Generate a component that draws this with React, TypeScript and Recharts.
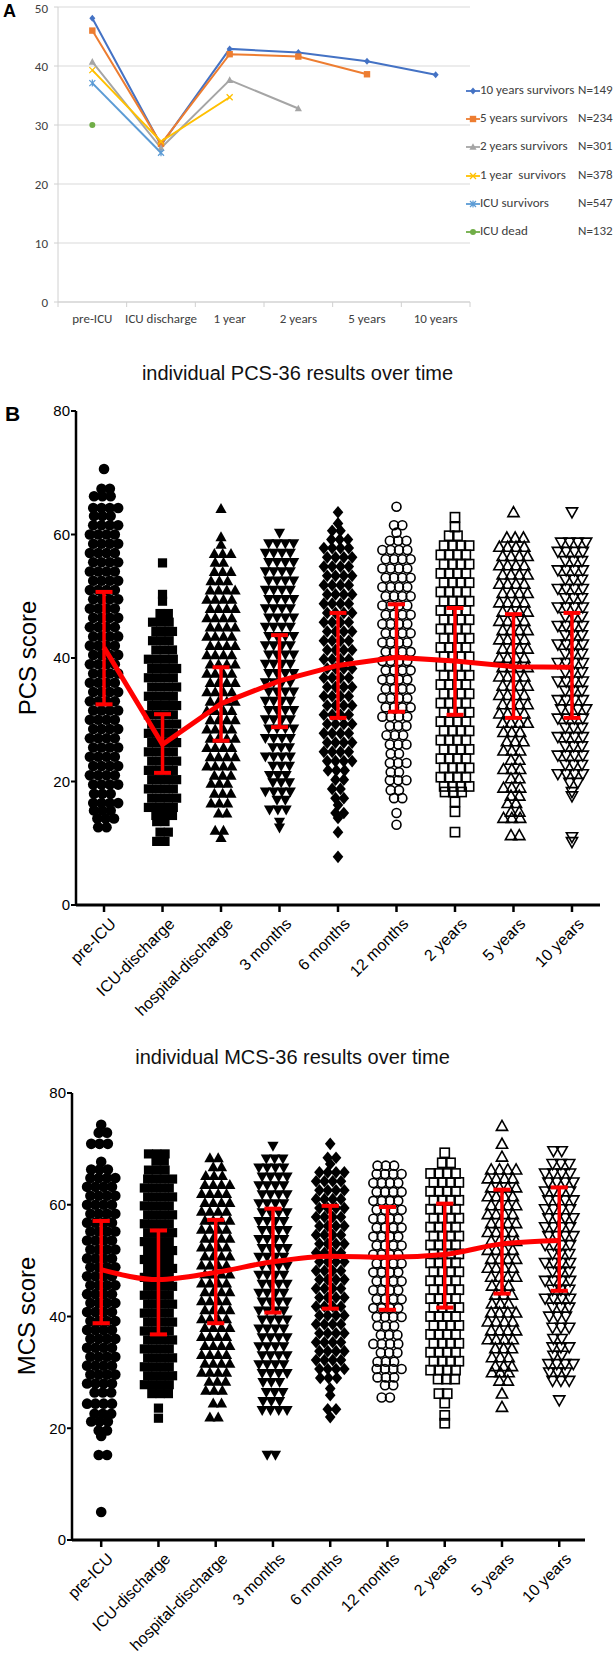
import { CartesianGrid, ComposedChart, Line, LineChart, Scatter, XAxis, YAxis } from "recharts";

// ---------- panel A: mean PCS by survivor group ----------
const periodsA = ["pre-ICU", "ICU discharge", "1 year", "2 years", "5 years", "10 years"];
const tenYears = [48.1, 26.6, 42.9, 42.3, 40.8, 38.5];
const fiveYears = [46.0, 26.8, 42.0, 41.6, 38.6, null];
const twoYears = [40.7, 26.1, 37.6, 32.8, null, null];
const oneYear = [39.3, 27.2, 34.7, null, null, null];
const icuSurvivors = [37.1, 25.3, null, null, null, null];
const icuDead = [30.0, null, null, null, null, null];

// ---------- panel B: individual scores ----------
const periodsB = ["pre-ICU", "ICU-discharge", "hospital-discharge", "3 months", "6 months", "12 months", "2 years", "5 years", "10 years"];

// each row: [score, markers side by side at that score]
const pcsPreIcu = [[70.6,1],[67.4,2],[66.2,3],[64.3,4],[63,3],[61.5,4],[60,4],[58.5,4],[57,4],[55.5,4],[54,4],[52.5,4],[51,4],[49.5,4],[48,4],[46.5,4],[45,4],[43.5,4],[42,4],[40.5,4],[39,4],[37.5,4],[36,4],[34.5,4],[33,4],[31.5,4],[30,4],[28.5,4],[27,4],[25.5,4],[24,4],[22.5,4],[21,4],[19.5,4],[18,3],[16.5,4],[15.3,3],[14,3],[12.6,2]];
const pcsIcuDischarge = [[55.4,1],[50.3,1],[49.2,1],[47.2,2],[45.8,3],[44.3,3],[42.8,3],[41.3,3],[39.8,4],[38.3,4],[36.8,4],[35.3,4],[33.8,4],[32.3,4],[30.8,4],[29.3,4],[27.8,4],[26.3,4],[24.8,4],[23.3,4],[21.8,4],[20.3,4],[18.8,4],[17.3,4],[15.8,4],[14.5,3],[13.5,2],[11.8,2],[10.3,2]];
const pcsHospital = [[64.2,1],[59.6,1],[58.4,1],[56.9,3],[55.5,2],[54,3],[52.5,3],[51,4],[49.5,4],[48,4],[46.5,4],[45,4],[43.5,4],[42,4],[40.5,4],[39,4],[37.5,4],[36,4],[34.5,4],[33,4],[31.5,4],[30,4],[28.5,4],[27,4],[25.5,4],[24,4],[22.5,4],[21,3],[19.7,3],[18.1,3],[16.5,3],[14.9,2],[12.1,2],[10.9,1]];
const pcs3Months = [[60.2,1],[58.5,4],[57,4],[55.5,4],[54,4],[52.5,4],[51,4],[49.5,4],[48,4],[46.5,4],[45,4],[43.5,4],[42,4],[40.5,4],[39,4],[37.5,4],[36,4],[34.5,4],[33,4],[31.5,4],[30,4],[28.5,4],[27,4],[25.5,3],[24,4],[22.5,3],[21,3],[19.8,3],[18.3,4],[17,2],[15.4,3],[13.4,1],[12.5,1]];
const pcs6Months = [[63.6,1],[61.8,1],[60.6,2],[59.2,3],[57.8,4],[56.3,4],[54.8,4],[53.3,4],[51.8,4],[50.3,4],[48.8,4],[47.3,4],[45.8,4],[44.3,4],[42.8,4],[41.3,4],[39.8,4],[38.3,4],[36.8,4],[35.3,4],[33.8,4],[32.3,4],[30.8,4],[29.3,4],[27.8,4],[26.3,4],[24.8,4],[23.3,4],[21.8,3],[20.3,2],[18.8,2],[17.3,2],[16.2,1],[14.9,2],[14.1,1],[11.8,1],[7.8,1]];
const pcs12Months = [[64.5,1],[61.5,2],[60.3,1],[59,3],[57.5,4],[56,4],[54.5,4],[53,4],[51.5,4],[50,4],[48.5,4],[47,4],[45.5,4],[44,4],[42.5,4],[41,4],[39.5,4],[38,4],[36.5,4],[35,4],[33.5,4],[32,4],[30.5,4],[29,3],[27.5,3],[26,3],[24.5,2],[23,3],[21.5,2],[20.2,3],[18.6,2],[17.3,2],[14.9,1],[13,1]];
const pcs2Years = [[62.8,1],[61.2,1],[59.8,2],[58.2,4],[56.7,4],[55.2,4],[53.7,4],[52.2,4],[50.7,4],[49.2,4],[47.7,4],[46.2,4],[44.7,4],[43.2,4],[41.7,4],[40.2,4],[38.7,4],[37.2,4],[35.7,4],[34.2,4],[32.7,4],[31.2,4],[29.7,4],[28.2,4],[26.7,4],[25.2,4],[23.7,4],[22.2,4],[20.7,4],[19.2,4],[18.3,3],[16.7,1],[15.1,1],[11.8,1]];
const pcs5Years = [[63.6,1],[59.5,3],[58,4],[56.5,4],[55,4],[53.5,4],[52,4],[50.5,4],[49,4],[47.5,4],[46,4],[44.5,4],[43,4],[41.5,4],[40,4],[38.5,4],[37,4],[35.5,4],[34,4],[32.5,4],[31,4],[29.5,4],[28,3],[26.5,3],[25,3],[23.5,2],[22,3],[20.5,2],[19,3],[17.7,2],[16.5,2],[15.1,2],[14.1,3],[11.3,2]];
const pcs10Years = [[63.6,1],[58.7,4],[57.2,4],[55.7,3],[54.2,4],[52.7,3],[51.2,4],[49.7,3],[48.2,4],[46.7,3],[45.2,4],[43.7,3],[42.2,4],[40.7,3],[39.2,4],[37.7,3],[36.2,4],[34.7,3],[33.2,4],[31.7,4],[30.2,4],[28.7,3],[27.2,4],[25.7,3],[24.2,4],[22.7,3],[21.2,4],[19.8,2],[18.3,1],[17.6,1],[11,1],[10.2,1]];

const mcsPreIcu = [[74.3,1],[72.9,2],[70.9,3],[67.7,1],[66.3,3],[64.8,4],[63.2,4],[61.6,4],[60,4],[58.4,4],[56.8,4],[55.2,4],[53.6,4],[52,4],[50.4,4],[48.8,4],[47.2,4],[45.6,4],[44,4],[42.4,4],[40.8,4],[39.2,4],[37.6,4],[36,4],[34.4,4],[32.8,4],[31.2,4],[29.6,4],[28,4],[26.4,3],[24.4,4],[22.6,3],[21.2,3],[19.6,2],[18.6,1],[15.2,2],[5,1]];
const mcsIcuDischarge = [[69.1,3],[67.8,2],[66.2,3],[64.6,4],[63,4],[61.4,4],[59.8,4],[58.2,4],[56.6,4],[55,4],[53.4,4],[51.8,4],[50.2,4],[48.6,4],[47,4],[45.4,4],[43.8,4],[42.2,4],[40.6,4],[39,4],[37.4,4],[35.8,4],[34.2,4],[32.6,4],[31,4],[29.4,4],[27.8,4],[26.2,3],[23.6,1],[21.8,1]];
const mcsHospital = [[68.4,2],[66.8,2],[65.2,3],[63.6,4],[62,4],[60.4,4],[58.8,4],[57.2,4],[55.6,4],[54,4],[52.4,4],[50.8,4],[49.2,4],[47.6,4],[46,4],[44.4,4],[42.8,4],[41.2,4],[39.6,4],[38,4],[36.4,4],[34.8,4],[33.2,4],[31.6,4],[30,4],[28.4,3],[26.8,3],[24.5,2],[22,2]];
const mcs3Months = [[70.5,1],[68.2,3],[66.6,4],[65,4],[63.4,4],[61.8,4],[60.2,4],[58.6,4],[57,4],[55.4,4],[53.8,4],[52.2,4],[50.6,4],[49,4],[47.4,4],[45.8,4],[44.2,4],[42.6,4],[41,4],[39.4,4],[37.8,4],[36.2,4],[34.6,4],[33,4],[31.4,4],[29.8,4],[28.2,3],[26.4,3],[24.8,3],[23.2,4],[15.2,2]];
const mcs6Months = [[70.9,1],[68.4,2],[67.3,1],[65.8,4],[64.2,4],[62.6,4],[61,4],[59.4,4],[57.8,4],[56.2,4],[54.6,4],[53,4],[51.4,4],[49.8,4],[48.2,4],[46.6,4],[45,4],[43.4,4],[41.8,4],[40.2,4],[38.6,4],[37,4],[35.4,4],[33.8,4],[32.2,4],[30.6,4],[29,3],[27.1,1],[25.9,1],[23.4,2],[22,1]];
const mcs12Months = [[67,3],[65.5,4],[63.9,4],[62.3,4],[60.7,4],[59.1,4],[57.5,4],[55.9,4],[54.3,4],[52.7,4],[51.1,4],[49.5,4],[47.9,4],[46.3,4],[44.7,4],[43.1,4],[41.5,4],[39.9,4],[38.3,3],[36.7,3],[35.1,4],[33.5,3],[31.9,3],[30.6,4],[29.1,3],[27.7,2],[25.5,2]];
const mcs2Years = [[69.3,1],[67.5,2],[65.6,4],[64,4],[62.4,4],[60.8,4],[59.2,4],[57.6,4],[56,4],[54.4,4],[52.8,4],[51.2,4],[49.6,4],[48,4],[46.4,4],[44.8,4],[43.2,4],[41.6,4],[40,4],[38.4,4],[36.8,4],[35.2,4],[33.6,4],[32,4],[30.4,4],[28.8,3],[26.2,2],[24.5,1],[22.3,1],[20.9,1]];
const mcs5Years = [[74.1,1],[70.9,1],[68.6,1],[66.3,4],[64.7,4],[63.1,4],[61.5,4],[59.9,4],[58.3,4],[56.7,4],[55.1,4],[53.5,4],[51.9,4],[50.3,4],[48.7,4],[47.1,4],[45.5,3],[43.9,3],[42.3,3],[40.7,4],[39.1,4],[37.5,4],[35.9,4],[34.3,3],[32.7,3],[31.1,3],[30,3],[28.5,2],[26.2,1],[23.8,1]];
const mcs10Years = [[69.6,2],[67.3,3],[65.6,4],[64,4],[62.4,4],[60.8,4],[59.2,4],[57.6,4],[56,4],[54.4,4],[52.8,4],[51.2,3],[49.6,4],[48,3],[46.4,4],[44.8,3],[43.2,4],[41.6,3],[40,3],[38,3],[36,2],[34.5,3],[33,2],[31.5,4],[30,3],[28.5,3],[25,1]];

// means and mean ± SD
const pcsMean = [41.7, 26.0, 32.6, 36.3, 38.8, 40.1, 39.5, 38.6, 38.5];
const pcsHigh = [50.7, 30.9, 38.5, 43.7, 47.3, 48.7, 48.1, 47.1, 47.3];
const pcsLow = [32.5, 21.4, 26.6, 28.8, 30.3, 31.3, 30.8, 30.3, 30.3];
const mcsMean = [48.4, 46.6, 47.9, 49.8, 50.8, 50.6, 51.1, 53.0, 53.6];
const mcsHigh = [57.1, 55.4, 57.3, 59.3, 59.8, 59.6, 60.2, 62.7, 63.1];
const mcsLow = [38.8, 36.8, 38.8, 40.7, 41.4, 41.2, 41.6, 44.1, 44.6];

const markerKinds = ["circle", "square", "up", "down", "diamond", "oCircle", "oSquare", "oUp", "oDown"];

const ARIAL = "'Liberation Sans', Arial, sans-serif";
const CALIBRI = "Carlito, 'Liberation Sans Narrow', 'DejaVu Sans Condensed', sans-serif";
const RED = "#ff0000";

type Row = number[];

// spread the markers of one row side by side, like a prism column scatter
function swarm(rows: Row[], col: number, step: number) {
  const pts: { x: number; y: number }[] = [];
  rows.forEach(([v, n], r) => {
    const shift = n > 1 ? (r % 2 ? 0.2 : -0.2) : 0;
    for (let k = 0; k < n; k++) pts.push({ x: col + (k - (n - 1) / 2 + shift) * step, y: v });
  });
  return pts;
}

function drawMarker(kind: string, cx: number, cy: number) {
  const open = kind.startsWith("o");
  const paint = open
    ? { fill: "none", stroke: "#000", strokeWidth: 1.6 }
    : { fill: "#000", stroke: "none" };
  const base = open ? kind.slice(1).toLowerCase() : kind;
  if (base === "circle") return <circle cx={cx} cy={cy} r={open ? 4.5 : 5.3} {...paint} />;
  if (base === "square") return <rect x={cx - 4.6} y={cy - 4.6} width={9.2} height={9.2} {...paint} />;
  if (base === "up")
    return <polygon points={`${cx},${cy - 5.6} ${cx + 5.6},${cy + 4.4} ${cx - 5.6},${cy + 4.4}`} {...paint} />;
  if (base === "down")
    return <polygon points={`${cx},${cy + 5.6} ${cx + 5.6},${cy - 4.4} ${cx - 5.6},${cy - 4.4}`} {...paint} />;
  return <polygon points={`${cx},${cy - 6.3} ${cx + 5.3},${cy} ${cx},${cy + 6.3} ${cx - 5.3},${cy}`} {...paint} />;
}

type PanelProps = {
  columns: Row[][];
  mean: number[];
  high: number[];
  low: number[];
  height: number;
  axisWidth: number;
  top: number;
  right: number;
  domain: [number, number];
  step: number;
  cap: number;
  xAxisHeight: number;
  curve: "linear" | "monotone";
};

// red mean ± SD overlay; its own chart so it always sits above the dots
function MeanOverlay({ mean, high, low, height, axisWidth, top, right, domain, cap, xAxisHeight, curve }: PanelProps) {
  const meanData = mean.map((m, i) => ({ x: i, v: m }));
  return (
    <ComposedChart
      width={613}
      height={height}
      margin={{ top, right, bottom: xAxisHeight, left: axisWidth }}
      style={{ position: "absolute", left: 0, top: 0, pointerEvents: "none" }}
    >
      <XAxis dataKey="x" type="number" domain={domain} hide allowDataOverflow />
      <YAxis type="number" domain={[0, 80]} hide />
      {mean.map((_, i) => (
        <Line
          key={`stem${i}`}
          data={[{ x: i, v: low[i] }, { x: i, v: high[i] }]}
          dataKey="v"
          stroke={RED}
          strokeWidth={3.5}
          dot={false}
          isAnimationActive={false}
        />
      ))}
      {mean.map((_, i) => (
        <Line
          key={`capHi${i}`}
          data={[{ x: i - cap, v: high[i] }, { x: i + cap, v: high[i] }]}
          dataKey="v"
          stroke={RED}
          strokeWidth={4}
          dot={false}
          isAnimationActive={false}
        />
      ))}
      {mean.map((_, i) => (
        <Line
          key={`capLo${i}`}
          data={[{ x: i - cap, v: low[i] }, { x: i + cap, v: low[i] }]}
          dataKey="v"
          stroke={RED}
          strokeWidth={4}
          dot={false}
          isAnimationActive={false}
        />
      ))}
      <Line data={meanData} dataKey="v" type={curve} stroke={RED} strokeWidth={5} dot={false} isAnimationActive={false} />
    </ComposedChart>
  );
}

function ScatterPanel(props: PanelProps) {
  const { columns, height, axisWidth, top, right, domain, step, xAxisHeight } = props;
  return (
    <div style={{ position: "relative", width: 613, height }}>
      <ComposedChart width={613} height={height} margin={{ top, right, bottom: 0, left: 0 }}>
        <XAxis
          dataKey="x"
          type="number"
          domain={domain}
          ticks={periodsB.map((_, i) => i)}
          interval={0}
          height={xAxisHeight}
          axisLine={{ stroke: "#000", strokeWidth: 3 }}
          tickLine={{ stroke: "#000", strokeWidth: 2.5 }}
          tickSize={7}
          allowDataOverflow
          tick={(p: any) => (
            <text
              x={p.x + 5}
              y={p.y + 3}
              transform={`rotate(-45 ${p.x + 5} ${p.y + 3})`}
              textAnchor="end"
              dominantBaseline="hanging"
              fontSize={16}
              fontFamily={ARIAL}
              fill="#000"
            >
              {periodsB[p.payload.value]}
            </text>
          )}
        />
        <YAxis
          type="number"
          domain={[0, 80]}
          ticks={[0, 20, 40, 60, 80]}
          width={axisWidth}
          axisLine={{ stroke: "#000", strokeWidth: 2.5 }}
          tickLine={{ stroke: "#000", strokeWidth: 2 }}
          tickSize={5}
          tickMargin={1}
          tick={{ fontSize: 15, fill: "#000", fontFamily: ARIAL }}
        />
        {columns.map((rows, i) => (
          <Scatter
            key={periodsB[i]}
            data={swarm(rows, i, step)}
            dataKey="y"
            isAnimationActive={false}
            shape={(p: any) => drawMarker(markerKinds[i], p.cx, p.cy)}
          />
        ))}
      </ComposedChart>
      <MeanOverlay {...props} />
    </div>
  );
}

// ---------- panel A pieces ----------
const seriesA = [
  { key: "tenYears", label: "10 years survivors", n: "N=149", color: "#4472C4", shape: "diamond", values: tenYears },
  { key: "fiveYears", label: "5 years survivors", n: "N=234", color: "#ED7D31", shape: "square", values: fiveYears },
  { key: "twoYears", label: "2 years survivors", n: "N=301", color: "#A5A5A5", shape: "triangle", values: twoYears },
  { key: "oneYear", label: "1 year  survivors", n: "N=378", color: "#FFC000", shape: "cross", values: oneYear },
  { key: "icuSurvivors", label: "ICU survivors", n: "N=547", color: "#5B9BD5", shape: "star", values: icuSurvivors },
  { key: "icuDead", label: "ICU dead", n: "N=132", color: "#70AD47", shape: "circle", values: icuDead },
];

const aData = periodsA.map((p, i) => {
  const row: Record<string, number | string | null> = { x: i, period: p };
  seriesA.forEach((s) => (row[s.key] = s.values[i]));
  return row;
});

function excelMarker(shape: string, color: string, cx: number, cy: number) {
  if (shape === "diamond")
    return <polygon points={`${cx},${cy - 3.5} ${cx + 3},${cy} ${cx},${cy + 3.5} ${cx - 3},${cy}`} fill={color} />;
  if (shape === "square") return <rect x={cx - 3.2} y={cy - 3.2} width={6.4} height={6.4} fill={color} />;
  if (shape === "triangle")
    return <polygon points={`${cx},${cy - 3.8} ${cx + 3.6},${cy + 2.8} ${cx - 3.6},${cy + 2.8}`} fill={color} />;
  if (shape === "cross")
    return (
      <path d={`M${cx - 3},${cy - 3}L${cx + 3},${cy + 3}M${cx + 3},${cy - 3}L${cx - 3},${cy + 3}`} stroke={color} strokeWidth={1.3} />
    );
  if (shape === "star")
    return (
      <path
        d={`M${cx - 3},${cy - 3}L${cx + 3},${cy + 3}M${cx + 3},${cy - 3}L${cx - 3},${cy + 3}M${cx},${cy - 3.5}L${cx},${cy + 3.5}`}
        stroke={color}
        strokeWidth={1.2}
      />
    );
  return <circle cx={cx} cy={cy} r={3} fill={color} />;
}

function PanelA() {
  const band = (470 - 58) / 6;
  return (
    <div style={{ position: "absolute", left: 0, top: 0 }}>
      <LineChart width={613} height={340} data={aData} margin={{ top: 7, right: 143, bottom: 0, left: 0 }}>
        <CartesianGrid vertical={false} stroke="#d9d9d9" />
        <XAxis
          dataKey="x"
          type="number"
          domain={[-0.5, 5.5]}
          ticks={[-0.5, 0.5, 1.5, 2.5, 3.5, 4.5, 5.5]}
          interval={0}
          height={38}
          axisLine={{ stroke: "#d0d0d0" }}
          tickLine={{ stroke: "#d0d0d0" }}
          tickSize={5}
          tick={(p: any) => {
            const idx = Math.round(p.payload.value + 0.5);
            if (idx > 5) return <g />;
            return (
              <text x={p.x + band / 2} y={p.y + 14} textAnchor="middle" fontSize={13} fontFamily={CALIBRI} fill="#404040">
                {periodsA[idx]}
              </text>
            );
          }}
        />
        <YAxis
          type="number"
          domain={[0, 50]}
          ticks={[0, 10, 20, 30, 40, 50]}
          width={58}
          axisLine={{ stroke: "#d0d0d0" }}
          tickLine={{ stroke: "#d0d0d0" }}
          tickSize={4}
          tickMargin={6}
          tick={{ fontSize: 13, fill: "#404040", fontFamily: CALIBRI }}
        />
        {seriesA.map((s) => (
          <Line
            key={s.key}
            dataKey={s.key}
            stroke={s.color}
            strokeWidth={2}
            isAnimationActive={false}
            dot={(p: any) =>
              p.cy == null || p.value == null ? <g key={p.index} /> : <g key={p.index}>{excelMarker(s.shape, s.color, p.cx, p.cy)}</g>
            }
          />
        ))}
      </LineChart>
      <div style={{ position: "absolute", left: 466, top: 82, fontFamily: CALIBRI, fontSize: 13, color: "#404040" }}>
        {seriesA.map((s) => (
          <div key={s.key} style={{ position: "relative", height: 28.2, width: 147, whiteSpace: "pre" }}>
            <svg width={14} height={12} style={{ position: "absolute", left: 0, top: 3 }}>
              <line x1={0} y1={6} x2={14} y2={6} stroke={s.color} strokeWidth={1.8} />
              {excelMarker(s.shape, s.color, 7, 6)}
            </svg>
            <span style={{ position: "absolute", left: 14, top: 0 }}>{s.label}</span>
            <span style={{ position: "absolute", left: 112, top: 0 }}>{s.n}</span>
          </div>
        ))}
      </div>
      <div style={{ position: "absolute", left: 3, top: 1, fontFamily: ARIAL, fontWeight: 700, fontSize: 18 }}>A</div>
    </div>
  );
}

export default function App() {
  const pcsColumns = [pcsPreIcu, pcsIcuDischarge, pcsHospital, pcs3Months, pcs6Months, pcs12Months, pcs2Years, pcs5Years, pcs10Years];
  const mcsColumns = [mcsPreIcu, mcsIcuDischarge, mcsHospital, mcs3Months, mcs6Months, mcs12Months, mcs2Years, mcs5Years, mcs10Years];
  const title: React.CSSProperties = {
    position: "absolute",
    width: 613,
    textAlign: "center",
    fontFamily: ARIAL,
    fontSize: 20,
    color: "#111",
  };
  const yTitle: React.CSSProperties = {
    position: "absolute",
    width: 200,
    textAlign: "center",
    fontFamily: ARIAL,
    fontSize: 24,
    transform: "rotate(-90deg)",
    color: "#000",
  };
  return (
    <div style={{ position: "absolute", left: 0, top: 0, width: 613, height: 1656, background: "#fff", overflow: "hidden" }}>
      <PanelA />

      <div style={{ ...title, top: 362, left: -9 }}>individual PCS-36 results over time</div>
      <div style={{ position: "absolute", left: 5, top: 402, fontFamily: ARIAL, fontWeight: 700, fontSize: 21 }}>B</div>
      <div style={{ ...yTitle, left: 28 - 100, top: 658 - 14 }}>PCS score</div>
      <div style={{ position: "absolute", left: 0, top: 400 }}>
        <ScatterPanel
          columns={pcsColumns}
          mean={pcsMean}
          high={pcsHigh}
          low={pcsLow}
          height={640}
          axisWidth={76}
          top={11}
          right={13}
          domain={[-0.479, 8.479]}
          step={0.142}
          cap={0.145}
          xAxisHeight={135}
          curve="linear"
        />
      </div>

      <div style={{ ...title, top: 1046, left: -14 }}>individual MCS-36 results over time</div>
      <div style={{ ...yTitle, left: 27 - 100, top: 1316 - 14 }}>MCS score</div>
      <div style={{ position: "absolute", left: 0, top: 1080 }}>
        <ScatterPanel
          columns={mcsColumns}
          mean={mcsMean}
          high={mcsHigh}
          low={mcsLow}
          height={576}
          axisWidth={72}
          top={13}
          right={28}
          domain={[-0.51, 8.45]}
          step={0.145}
          cap={0.15}
          xAxisHeight={116}
          curve="monotone"
        />
      </div>
    </div>
  );
}
